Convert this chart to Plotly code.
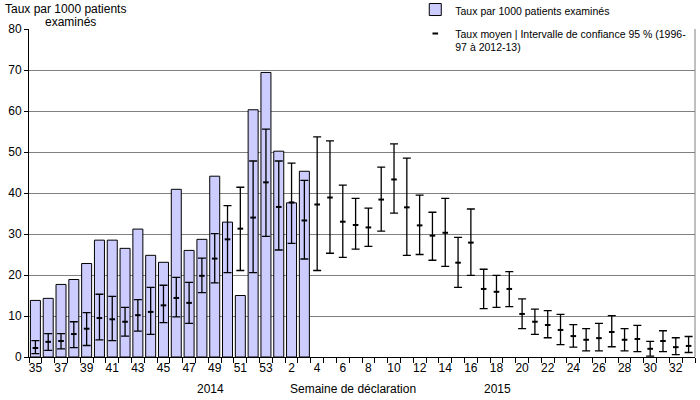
import plotly.graph_objects as go

weeks = [str(w) for w in range(35, 54)] + [str(w) for w in range(1, 34)]

rate_2014_15 = [13.8, 14.3, 17.7, 18.9, 22.8, 28.5, 28.5, 26.5, 31.2, 24.8,
                23.1, 40.9, 26.0, 28.7, 44.1, 32.9, 15.0, 60.3, 69.4, 50.2,
                37.6, 45.3]

mean_rate = [2.2, 3.7, 3.9, 5.6, 6.9, 9.5, 9.2, 8.6, 10.2, 11.0,
             12.6, 14.4, 13.2, 19.8, 24.0, 28.7, 31.3, 34.0, 42.6,
             36.6, 37.7, 33.3, 37.2, 38.9, 33.0, 32.2, 31.6, 38.4, 43.3,
             36.5, 32.1, 29.6, 30.3, 23.0, 27.9, 16.6, 15.9, 16.6, 10.5,
             8.6, 7.8, 6.6, 5.1, 4.2, 4.6, 6.1, 4.2, 4.4, 2.0, 3.9, 2.4, 2.7]
ci_upper = [4.0, 5.7, 5.7, 8.6, 10.8, 15.3, 14.8, 12.1, 14.0, 17.0,
            17.5, 19.4, 18.2, 24.1, 30.1, 36.9, 41.4, 47.8, 55.6,
            47.8, 47.3, 43.1, 53.7, 52.7, 41.9, 38.7, 36.3, 46.3, 52.0,
            48.5, 39.5, 35.3, 38.7, 29.2, 36.1, 21.4, 19.9, 20.8, 14.2,
            11.7, 11.3, 10.4, 7.9, 6.9, 8.2, 10.1, 6.9, 7.7, 3.8, 6.4, 4.7, 5.0]
ci_lower = [0.8, 1.6, 2.0, 2.3, 2.8, 4.2, 4.0, 5.1, 6.3, 5.5,
            8.4, 9.8, 8.2, 15.7, 18.1, 20.6, 21.1, 20.6, 29.4,
            26.1, 27.7, 23.9, 21.1, 25.3, 24.3, 26.3, 27.0, 30.7, 35.1,
            24.8, 25.0, 23.6, 22.1, 17.0, 19.9, 11.8, 12.1, 12.3, 6.9,
            5.5, 4.7, 3.0, 2.4, 1.5, 1.5, 2.5, 1.5, 1.3, 0.2, 1.3, 0.6, 1.1]

y_ticks = list(range(0, 81, 10))

x_idx = list(range(len(weeks)))
err_plus = [u - m for u, m in zip(ci_upper, mean_rate)]
err_minus = [m - l for m, l in zip(mean_rate, ci_lower)]

FONT = "Liberation Sans, Arial, sans-serif"

fig = go.Figure()
fig.add_trace(go.Bar(
    x=x_idx[:len(rate_2014_15)], y=rate_2014_15,
    name="Taux par 1000 patients examinés",
    marker=dict(color="#CCCCFF", line=dict(color="black", width=1)),
    legendgroup="a",
))
fig.add_trace(go.Scatter(
    x=x_idx, y=mean_rate, mode="markers",
    name="Taux moyen | Intervalle de confiance 95 % (1996-<br>97 à 2012-13)",
    marker=dict(symbol="line-ew", size=4, color="black",
                line=dict(color="black", width=2)),
    error_y=dict(type="data", symmetric=False, array=err_plus,
                 arrayminus=err_minus, color="black", thickness=1.3, width=4),
    legendgroup="b",
))

fig.update_layout(
    width=700, height=400,
    margin=dict(l=29, r=5, t=29, b=43, autoexpand=False),
    plot_bgcolor="white", paper_bgcolor="white",
    bargap=0.22,
    font=dict(family=FONT, size=12, color="black"),
    showlegend=True,
    legend=dict(x=0.58, y=1.1, xanchor="left", yanchor="top",
                bgcolor="white", font=dict(size=10.5, family=FONT, color="black"),
                traceorder="grouped", tracegroupgap=5, valign="top",
                itemwidth=30),
    xaxis=dict(
        range=[-0.5, len(weeks) - 0.5],
        tickmode="array",
        tickvals=x_idx[::2], ticktext=weeks[::2],
        ticks="", automargin=False,
        showline=True, linecolor="black", linewidth=1,
        showgrid=False, zeroline=False,
        tickfont=dict(size=12),
        minor=dict(tickmode="array",
                   tickvals=[i - 0.5 for i in range(len(weeks) + 1)],
                   ticks="outside", ticklen=5, tickcolor="black",
                   tickwidth=1, showgrid=False),
    ),
    yaxis=dict(
        range=[0, 80], tickmode="array", tickvals=y_ticks,
        ticks="outside", ticklen=4, tickcolor="black", automargin=False,
        showline=True, linecolor="black", linewidth=1,
        showgrid=True, gridcolor="#808080", gridwidth=1,
        zeroline=False, tickfont=dict(size=12),
    ),
    shapes=[dict(type="line", xref="paper", yref="paper", x0=1, x1=1,
                 y0=0, y1=1, line=dict(color="#808080", width=1))],
    annotations=[
        dict(text="Taux par 1000 patients", xref="paper", yref="paper",
             x=-0.039, y=1.061, xanchor="left", yanchor="middle",
             showarrow=False, font=dict(size=12)),
        dict(text="examinés", xref="paper", yref="paper",
             x=0.062, y=1.021, xanchor="center", yanchor="middle",
             showarrow=False, font=dict(size=12)),
        dict(text="2014", xref="paper", yref="paper", x=0.272, y=-0.098,
             xanchor="center", yanchor="middle", showarrow=False),
        dict(text="Semaine de déclaration", xref="paper", yref="paper",
             x=0.486, y=-0.098, xanchor="center", yanchor="middle",
             showarrow=False),
        dict(text="2015", xref="paper", yref="paper", x=0.703, y=-0.098,
             xanchor="center", yanchor="middle", showarrow=False),
    ],
)

fig.write_html("out.html",
               config={"displayModeBar": False},
               post_script="document.body.style.margin='0px';"
                           "document.body.style.overflow='hidden';")
